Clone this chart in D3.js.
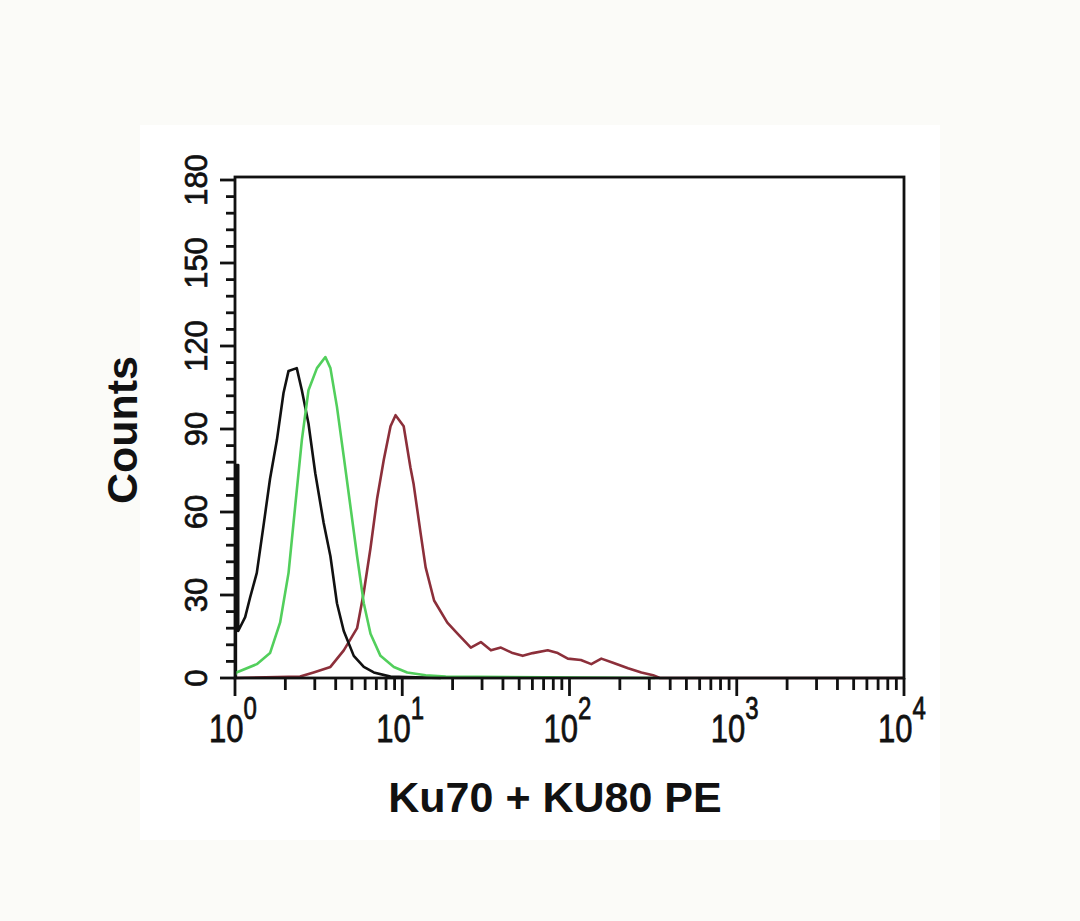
<!DOCTYPE html>
<html>
<head>
<meta charset="utf-8">
<script src="https://cdn.jsdelivr.net/npm/d3@7"></script>
<style>
  body { margin: 0; background: #fbfbf8; }
  svg { display: block; font-family: "Liberation Sans", Arial, sans-serif; }
</style>
</head>
<body>
<div id="chart-area"></div>
<script>
// fluorescence intensity (linear units) and counts
const blackX = [1.012, 1.012, 1.045, 1.045, 1.15, 1.23, 1.35, 1.48, 1.62, 1.78, 1.95, 2.09, 2.34, 2.51, 2.75, 3.02, 3.39, 3.72, 4.07, 4.47, 5.13, 5.89, 6.76, 8.51, 17.0];
const blackY = [0, 77, 77, 17, 22, 29, 38, 55, 72, 86, 103, 111, 112, 104, 92, 74, 56, 44, 27, 17, 8, 4, 2, 0.5, 0];

const greenX = [1, 1.02, 1.35, 1.62, 1.86, 2.09, 2.29, 2.51, 2.75, 3.09, 3.47, 3.72, 4.07, 4.47, 4.90, 5.37, 5.89, 6.46, 7.41, 8.91, 10.7, 13.8, 18.2, 324];
const greenY = [1, 2, 5, 9, 20, 38, 62, 86, 104, 112, 116, 112, 98, 80, 62, 44, 27, 16, 8, 4, 2, 1, 0.5, 0];

const redX = [1, 2.45, 2.95, 3.72, 4.47, 5.37, 5.89, 6.46, 7.08, 7.76, 8.51, 9.12, 10.2, 11.2, 11.7, 12.9, 13.8, 15.5, 18.6, 21.4, 25.7, 29.5, 33.9, 38.9, 45.7, 52.5, 60.3, 74.1, 85.1, 97.7, 117, 135, 155, 182, 224, 269, 316, 347, 10000];
const redY = [0, 0.5, 2, 4, 10, 18, 31, 47, 65, 79, 91, 95, 91, 76, 70, 52, 40, 28, 20, 16, 11, 13, 10, 11, 9, 8, 9, 10, 9, 7, 6.5, 5, 7, 5.5, 3.5, 2, 1, 0, 0];

const yTicks = [0, 30, 60, 90, 120, 150, 180];
const xDecades = [0, 1, 2, 3, 4];

const W = 1080, H = 921;
const plotLeft = 235, plotRight = 904, plotTop = 180, plotBottom = 678;

const svg = d3.select("#chart-area")
    .append("svg")
    .attr("width", W)
    .attr("height", H);

// white panel behind the plot
svg.append("rect")
    .attr("x", 140).attr("y", 125)
    .attr("width", 800).attr("height", 715)
    .attr("fill", "#ffffff");

const x = d3.scaleLog().domain([1, 10000]).range([plotLeft, plotRight]);
const y = d3.scaleLinear().domain([0, 180]).range([plotBottom, plotTop]);

const line = d3.line()
    .x(d => x(d[0]))
    .y(d => y(d[1]));

const series = [
    { xs: redX, ys: redY, color: "#8c2f3a" },
    { xs: blackX, ys: blackY, color: "#111111" },
    { xs: greenX, ys: greenY, color: "#52cf5c" }
];

series.forEach(s => {
    svg.append("path")
        .datum(d3.zip(s.xs, s.ys))
        .attr("fill", "none")
        .attr("stroke", s.color)
        .attr("stroke-width", 2.6)
        .attr("stroke-linejoin", "round")
        .attr("d", line);
});

// frame
svg.append("rect")
    .attr("x", plotLeft).attr("y", plotTop - 3)
    .attr("width", plotRight - plotLeft).attr("height", plotBottom - plotTop + 3)
    .attr("fill", "none")
    .attr("stroke", "#111")
    .attr("stroke-width", 2.8);

// y ticks: major every 30, minor every 6
const yMinor = d3.range(0, 181, 6);
svg.append("g").selectAll("line")
    .data(yMinor)
    .enter().append("line")
    .attr("x1", d => d % 30 === 0 ? plotLeft - 15 : plotLeft - 9)
    .attr("x2", plotLeft)
    .attr("y1", d => y(d))
    .attr("y2", d => y(d))
    .attr("stroke", "#111")
    .attr("stroke-width", 2.8);

svg.append("g").selectAll("text")
    .data(yTicks)
    .enter().append("text")
    .attr("transform", d => `translate(207,${y(d)}) rotate(-90)`)
    .attr("text-anchor", "middle")
    .attr("font-size", "31px")
    .attr("fill", "#111")
    .attr("stroke", "#111")
    .attr("stroke-width", 0.7)
    .text(d => d);

// x ticks: decades plus 2..9
const xMinor = [];
xDecades.slice(0, -1).forEach(p => {
    for (let k = 2; k <= 9; k++) xMinor.push(k * Math.pow(10, p));
});
svg.append("g").selectAll("line")
    .data(xMinor)
    .enter().append("line")
    .attr("x1", d => x(d)).attr("x2", d => x(d))
    .attr("y1", plotBottom).attr("y2", plotBottom + 12)
    .attr("stroke", "#111")
    .attr("stroke-width", 2.8);

svg.append("g").selectAll("line")
    .data(xDecades)
    .enter().append("line")
    .attr("x1", d => x(Math.pow(10, d))).attr("x2", d => x(Math.pow(10, d)))
    .attr("y1", plotBottom).attr("y2", plotBottom + 18)
    .attr("stroke", "#111")
    .attr("stroke-width", 2.8);

const xLabels = svg.append("g").selectAll("text")
    .data(xDecades)
    .enter().append("text")
    .attr("transform", d => `translate(${x(Math.pow(10, d)) - 2},742) scale(1,1.28)`)
    .attr("text-anchor", "middle")
    .attr("font-size", "31px")
    .attr("fill", "#111")
    .attr("stroke", "#111")
    .attr("stroke-width", 0.6);
xLabels.append("tspan").text("10");
xLabels.append("tspan")
    .attr("font-size", "24px")
    .attr("dy", -18)
    .text(d => d);

// axis titles
svg.append("text")
    .attr("x", 555)
    .attr("y", 812)
    .attr("text-anchor", "middle")
    .attr("font-size", "43px")
    .attr("font-weight", "bold")
    .attr("fill", "#111")
    .text("Ku70 + KU80 PE");

svg.append("text")
    .attr("transform", "translate(137,430) rotate(-90)")
    .attr("text-anchor", "middle")
    .attr("font-size", "43px")
    .attr("font-weight", "bold")
    .attr("fill", "#111")
    .text("Counts");
</script>
</body>
</html>
